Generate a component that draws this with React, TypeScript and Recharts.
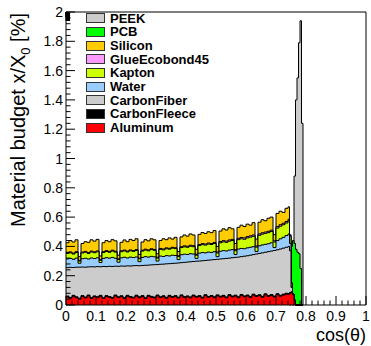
import { ComposedChart, Area, XAxis, YAxis } from "recharts"

// bin low edges (cos theta); fine bins near the PEEK/PCB peak, last edge closes the histogram
const BIN_EDGES = [
  0, 0.01, 0.02, 0.03, 0.04, 0.05, 0.06, 0.07, 0.08, 0.09,
  0.1, 0.11, 0.12, 0.13, 0.14, 0.15, 0.16, 0.17, 0.18, 0.19,
  0.2, 0.21, 0.22, 0.23, 0.24, 0.25, 0.26, 0.27, 0.28, 0.29,
  0.3, 0.31, 0.32, 0.33, 0.34, 0.35, 0.36, 0.37, 0.38, 0.39,
  0.4, 0.41, 0.42, 0.43, 0.44, 0.45, 0.46, 0.47, 0.48, 0.49,
  0.5, 0.51, 0.52, 0.53, 0.54, 0.55, 0.56, 0.57, 0.58, 0.59,
  0.6, 0.61, 0.62, 0.63, 0.64, 0.65, 0.66, 0.67, 0.68, 0.69,
  0.7, 0.71, 0.72, 0.73,
  0.74, 0.745, 0.75, 0.755, 0.76, 0.765, 0.77, 0.775, 0.78, 0.785, 0.79,
]

// cumulative heights (top edge of each band), x/X0 in %
const ALUMINUM = [
  0.055, 0.045, 0.06, 0.05, 0.04, 0.058, 0.048, 0.062, 0.045, 0.056,
  0.05, 0.06, 0.044, 0.058, 0.052, 0.046, 0.062, 0.05, 0.057, 0.045,
  0.06, 0.052, 0.047, 0.061, 0.05, 0.058, 0.044, 0.06, 0.053, 0.048,
  0.062, 0.05, 0.057, 0.046, 0.06, 0.052, 0.058, 0.047, 0.063, 0.051,
  0.056, 0.049, 0.062, 0.053, 0.058, 0.047, 0.064, 0.052, 0.059, 0.05,
  0.063, 0.054, 0.06, 0.049, 0.065, 0.055, 0.061, 0.05, 0.066, 0.056,
  0.062, 0.052, 0.068, 0.058, 0.064, 0.053, 0.07, 0.059, 0.065, 0.055,
  0.071, 0.06, 0.068, 0.074,
  0.072, 0.08, 0.085, 0.07, 0.03, 0, 0, 0, 0, 0, 0,
]
const CARBON_FLEECE = [
  0.061, 0.051, 0.066, 0.056, 0.046, 0.064, 0.054, 0.068, 0.051, 0.062,
  0.056, 0.066, 0.05, 0.064, 0.058, 0.052, 0.068, 0.056, 0.063, 0.051,
  0.066, 0.058, 0.053, 0.067, 0.056, 0.064, 0.05, 0.066, 0.059, 0.054,
  0.068, 0.056, 0.063, 0.052, 0.066, 0.058, 0.064, 0.053, 0.069, 0.057,
  0.062, 0.055, 0.068, 0.059, 0.064, 0.053, 0.07, 0.058, 0.065, 0.056,
  0.069, 0.06, 0.066, 0.055, 0.071, 0.061, 0.067, 0.056, 0.072, 0.062,
  0.068, 0.058, 0.074, 0.064, 0.07, 0.059, 0.076, 0.065, 0.071, 0.061,
  0.077, 0.066, 0.074, 0.08,
  0.078, 0.086, 0.09, 0.075, 0.032, 0, 0, 0, 0, 0, 0,
]
const CARBON_FIBER = [
  0.255, 0.257, 0.256, 0.258, 0.258, 0.259, 0.258, 0.26, 0.261, 0.26,
  0.262, 0.261, 0.263, 0.262, 0.264, 0.263, 0.265, 0.264, 0.266, 0.265,
  0.267, 0.266, 0.268, 0.269, 0.268, 0.27, 0.271, 0.272, 0.274, 0.275,
  0.276, 0.278, 0.279, 0.281, 0.282, 0.284, 0.285, 0.287, 0.289, 0.291,
  0.293, 0.295, 0.297, 0.299, 0.3, 0.302, 0.304, 0.306, 0.308, 0.31,
  0.312, 0.314, 0.316, 0.318, 0.32, 0.323, 0.325, 0.327, 0.33, 0.333,
  0.336, 0.34, 0.344, 0.348, 0.352, 0.356, 0.36, 0.364, 0.368, 0.372,
  0.377, 0.382, 0.388, 0.394,
  0.4, 0.37, 0.12, 0.075, 0.032, 0, 0, 0, 0, 0, 0,
]
const WATER = [
  0.315, 0.318, 0.312, 0.32, 0.285, 0.316, 0.319, 0.314, 0.321, 0.317,
  0.322, 0.29, 0.318, 0.323, 0.32, 0.325, 0.319, 0.292, 0.322, 0.326,
  0.321, 0.327, 0.324, 0.328, 0.296, 0.325, 0.33, 0.327, 0.332, 0.329,
  0.3, 0.334, 0.331, 0.337, 0.335, 0.34, 0.338, 0.31, 0.343, 0.347,
  0.345, 0.35, 0.348, 0.318, 0.354, 0.358, 0.356, 0.361, 0.359, 0.364,
  0.33, 0.367, 0.371, 0.369, 0.375, 0.378, 0.345, 0.382, 0.386, 0.384,
  0.39, 0.394, 0.398, 0.365, 0.404, 0.41, 0.414, 0.418, 0.425, 0.392,
  0.44, 0.452, 0.462, 0.474,
  0.485, 0.42, 0.12, 0.075, 0.032, 0, 0, 0, 0, 0, 0,
]
const KAPTON = [
  0.352, 0.356, 0.348, 0.358, 0.3, 0.355, 0.36, 0.352, 0.362, 0.357,
  0.363, 0.305, 0.358, 0.365, 0.36, 0.368, 0.361, 0.31, 0.364, 0.369,
  0.362, 0.37, 0.366, 0.372, 0.315, 0.368, 0.375, 0.37, 0.378, 0.373,
  0.32, 0.38, 0.376, 0.384, 0.381, 0.388, 0.385, 0.33, 0.392, 0.397,
  0.394, 0.401, 0.398, 0.34, 0.406, 0.412, 0.409, 0.416, 0.413, 0.42,
  0.355, 0.425, 0.431, 0.428, 0.436, 0.44, 0.37, 0.446, 0.452, 0.449,
  0.458, 0.463, 0.469, 0.395, 0.476, 0.484, 0.489, 0.494, 0.502, 0.43,
  0.525, 0.538, 0.548, 0.56,
  0.575, 0.47, 0.15, 0.075, 0.032, 0, 0, 0, 0, 0, 0,
]
const GLUE = [
  0.358, 0.362, 0.354, 0.364, 0.305, 0.361, 0.366, 0.358, 0.368, 0.363,
  0.369, 0.31, 0.364, 0.371, 0.366, 0.374, 0.367, 0.315, 0.37, 0.375,
  0.368, 0.376, 0.372, 0.378, 0.32, 0.374, 0.381, 0.376, 0.384, 0.379,
  0.326, 0.386, 0.382, 0.39, 0.387, 0.394, 0.391, 0.336, 0.398, 0.404,
  0.401, 0.408, 0.405, 0.346, 0.413, 0.419, 0.416, 0.423, 0.42, 0.427,
  0.362, 0.433, 0.439, 0.436, 0.444, 0.448, 0.378, 0.455, 0.461, 0.458,
  0.467, 0.472, 0.478, 0.403, 0.485, 0.493, 0.498, 0.503, 0.511, 0.438,
  0.535, 0.548, 0.558, 0.57,
  0.585, 0.475, 0.15, 0.075, 0.032, 0, 0, 0, 0, 0, 0,
]
const SILICON = [
  0.425, 0.44, 0.43, 0.445, 0.33, 0.42, 0.432, 0.428, 0.445, 0.436,
  0.448, 0.335, 0.425, 0.44, 0.432, 0.446, 0.438, 0.34, 0.428, 0.444,
  0.432, 0.448, 0.44, 0.452, 0.345, 0.43, 0.446, 0.438, 0.452, 0.445,
  0.35, 0.44, 0.452, 0.446, 0.458, 0.45, 0.462, 0.365, 0.465, 0.478,
  0.47, 0.485, 0.478, 0.38, 0.482, 0.495, 0.488, 0.5, 0.494, 0.508,
  0.4, 0.505, 0.52, 0.512, 0.528, 0.52, 0.42, 0.53, 0.545, 0.536,
  0.552, 0.545, 0.562, 0.45, 0.565, 0.582, 0.575, 0.592, 0.6, 0.48,
  0.625, 0.64, 0.632, 0.66,
  0.67, 0.48, 0.15, 0.075, 0.032, 0, 0, 0, 0, 0, 0,
]
const PCB_EDGES = [0.745, 0.75, 0.755, 0.76, 0.765, 0.77, 0.775, 0.78, 0.785, 0.79]
const PCB = [0, 0.4, 0.44, 0.42, 0.38, 0.36, 0.35, 0.25, 0, 0]
const PEEK_EDGES = [0.755, 0.76, 0.765, 0.77, 0.775, 0.78, 0.785, 0.79]
const PEEK = [0, 0.88, 1.4, 1.55, 1.79, 1.94, 1.24, 0]

const X_TICKS = [
  0, 0.02, 0.04, 0.06, 0.08, 0.1, 0.12, 0.14, 0.16, 0.18,
  0.2, 0.22, 0.24, 0.26, 0.28, 0.3, 0.32, 0.34, 0.36, 0.38,
  0.4, 0.42, 0.44, 0.46, 0.48, 0.5, 0.52, 0.54, 0.56, 0.58,
  0.6, 0.62, 0.64, 0.66, 0.68, 0.7, 0.72, 0.74, 0.76, 0.78,
  0.8, 0.82, 0.84, 0.86, 0.88, 0.9, 0.92, 0.94, 0.96, 0.98, 1,
]
const Y_TICKS = [
  0, 0.04, 0.08, 0.12, 0.16, 0.2, 0.24, 0.28, 0.32, 0.36,
  0.4, 0.44, 0.48, 0.52, 0.56, 0.6, 0.64, 0.68, 0.72, 0.76,
  0.8, 0.84, 0.88, 0.92, 0.96, 1, 1.04, 1.08, 1.12, 1.16,
  1.2, 1.24, 1.28, 1.32, 1.36, 1.4, 1.44, 1.48, 1.52, 1.56,
  1.6, 1.64, 1.68, 1.72, 1.76, 1.8, 1.84, 1.88, 1.92, 1.96, 2,
]

// legend order = top of stack first; drawn in this order so lower sums paint over
const SERIES = [
  { key: "peek", name: "PEEK", color: "#cccccc" },
  { key: "pcb", name: "PCB", color: "#00ff00" },
  { key: "silicon", name: "Silicon", color: "#ffcc00" },
  { key: "glue", name: "GlueEcobond45", color: "#ff99ff" },
  { key: "kapton", name: "Kapton", color: "#ccff00" },
  { key: "water", name: "Water", color: "#99ccff" },
  { key: "fiber", name: "CarbonFiber", color: "#cccccc" },
  { key: "fleece", name: "CarbonFleece", color: "#000000" },
  { key: "aluminum", name: "Aluminum", color: "#ff0000" },
]

const data = BIN_EDGES.map((x, i) => {
  const p = PCB_EDGES.indexOf(x)
  const k = PEEK_EDGES.indexOf(x)
  return {
    x,
    aluminum: ALUMINUM[i],
    fleece: CARBON_FLEECE[i],
    fiber: CARBON_FIBER[i],
    water: WATER[i],
    kapton: KAPTON[i],
    glue: GLUE[i],
    silicon: SILICON[i],
    pcb: p >= 0 ? PCB[p] : null,
    peek: k >= 0 ? PEEK[k] : null,
  }
})

const FONT = "'Liberation Sans', Arial, sans-serif"
const fmt = (v: number) => String(Math.round(v * 10) / 10)
const isMajorX = (v: number) => Math.abs(v * 10 - Math.round(v * 10)) < 1e-6
const isMajorY = (v: number) => Math.abs(v * 5 - Math.round(v * 5)) < 1e-6

const BottomTick = ({ x, y, payload }: any) => {
  const major = isMajorX(payload.value)
  return (
    <g>
      <line x1={x} x2={x} y1={y} y2={y - (major ? 9 : 4.5)} stroke="#000" />
      {major && (
        <text x={x} y={y + 16} textAnchor="middle" fontSize={14} fontFamily={FONT} fill="#000">
          {fmt(payload.value)}
        </text>
      )}
    </g>
  )
}

const TopTick = ({ x, y, payload }: any) => {
  const major = isMajorX(payload.value)
  return <line x1={x} x2={x} y1={y} y2={y + (major ? 9 : 4.5)} stroke="#000" />
}

const LeftTick = ({ x, y, payload }: any) => {
  const major = isMajorY(payload.value)
  return (
    <g>
      <line x1={x} x2={x + (major ? 9 : 4.5)} y1={y} y2={y} stroke="#000" />
      {major && (
        <text x={x - 3} y={y + 5} textAnchor="end" fontSize={14} fontFamily={FONT} fill="#000">
          {fmt(payload.value)}
        </text>
      )}
    </g>
  )
}

const RightTick = ({ x, y, payload }: any) => {
  const major = isMajorY(payload.value)
  return <line x1={x} x2={x - (major ? 9 : 4.5)} y1={y} y2={y} stroke="#000" />
}

export default function App() {
  return (
    <div style={{ position: "fixed", left: 0, top: 0, width: 371, height: 346, background: "#fff" }}>
      <ComposedChart width={371} height={346} data={data} margin={{ top: 0, right: 0, bottom: 0, left: 0 }}>
        <XAxis
          dataKey="x"
          type="number"
          domain={[0, 1]}
          ticks={X_TICKS}
          interval={0}
          height={41}
          tickSize={0}
          tickMargin={0}
          tickLine={false}
          axisLine={{ stroke: "#000" }}
          tick={<BottomTick />}
        />
        <XAxis
          xAxisId="top"
          orientation="top"
          type="number"
          domain={[0, 1]}
          ticks={X_TICKS}
          interval={0}
          height={12}
          tickSize={0}
          tickMargin={0}
          tickLine={false}
          axisLine={{ stroke: "#000" }}
          tick={<TopTick />}
        />
        <YAxis
          type="number"
          domain={[0, 2]}
          ticks={Y_TICKS}
          interval={0}
          width={66}
          tickSize={0}
          tickMargin={0}
          tickLine={false}
          axisLine={{ stroke: "#000" }}
          tick={<LeftTick />}
        />
        <YAxis
          yAxisId="right"
          orientation="right"
          type="number"
          domain={[0, 2]}
          ticks={Y_TICKS}
          interval={0}
          width={5}
          tickSize={0}
          tickMargin={0}
          tickLine={false}
          axisLine={{ stroke: "#000" }}
          tick={<RightTick />}
        />
        {SERIES.map((s) => (
          <Area
            key={s.key}
            dataKey={s.key}
            name={s.name}
            type="stepAfter"
            stroke="#000"
            strokeWidth={1}
            fill={s.color}
            fillOpacity={1}
            baseValue={0}
            dot={false}
            activeDot={false}
            connectNulls={false}
            isAnimationActive={false}
          />
        ))}
      </ComposedChart>

      {/* axis titles */}
      <svg width={371} height={346} style={{ position: "absolute", left: 0, top: 0, pointerEvents: "none" }}>
        <text
          transform="rotate(-90)"
          x={-13}
          y={25}
          textAnchor="end"
          fontSize={20}
          fontFamily={FONT}
          fill="#000"
        >
          Material budget x/X<tspan fontSize={13} dy={5}>0</tspan>
          <tspan dy={-5}> [%]</tspan>
        </text>
        <text x={366} y={341} textAnchor="end" fontSize={18} fontFamily={FONT} fill="#000">
          cos(θ)
        </text>
      </svg>

      {/* legend */}
      <div style={{ position: "absolute", left: 86, top: 11.5, fontFamily: FONT, fontSize: 13, fontWeight: "bold" }}>
        {SERIES.map((s) => (
          <div key={s.key} style={{ display: "flex", alignItems: "center", height: 13.7, lineHeight: "13.7px" }}>
            <span
              style={{
                display: "inline-block",
                width: 17,
                height: 8,
                background: s.color,
                border: "1px solid #333",
                marginRight: 5,
              }}
            />
            <span>{s.name}</span>
          </div>
        ))}
      </div>
    </div>
  )
}
